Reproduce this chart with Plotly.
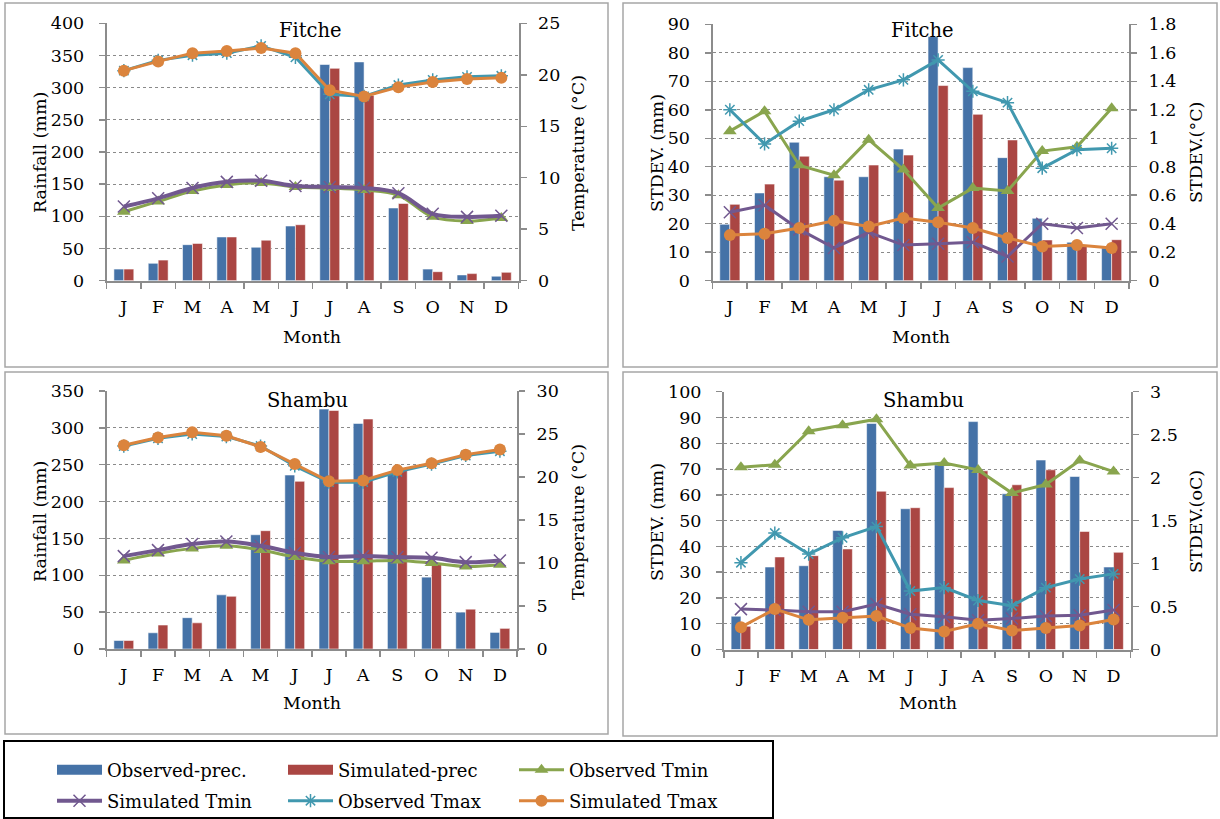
import plotly.graph_objects as go

W, H = 1220, 819
FONT = "DejaVu Serif"
TICK_SIZE = 17.5

months = ["J", "F", "M", "A", "M", "J", "J", "A", "S", "O", "N", "D"]

# ---- Fitche: monthly means ----
fit_obs_prec = [18, 27, 56, 68, 52, 85, 336, 340, 113, 18, 9, 7]
fit_sim_prec = [18, 32, 58, 68, 63, 87, 330, 288, 120, 14, 11, 13]
fit_obs_tmin = [6.7, 7.7, 8.7, 9.3, 9.5, 9.1, 9.0, 8.8, 8.3, 6.2, 5.8, 6.1]
fit_sim_tmin = [7.2, 8.0, 9.0, 9.6, 9.7, 9.2, 9.1, 9.0, 8.5, 6.5, 6.2, 6.3]
fit_obs_tmax = [20.4, 21.4, 21.9, 22.1, 22.8, 21.7, 18.1, 17.9, 19.0, 19.5, 19.8, 19.9]
fit_sim_tmax = [20.4, 21.3, 22.1, 22.3, 22.6, 22.1, 18.5, 17.9, 18.8, 19.3, 19.6, 19.7]

# ---- Fitche: standard deviations ----
fit_obs_prec_sd = [19.8, 30.8, 48.6, 36.5, 36.5, 46.2, 85.7, 74.8, 43.2, 21.9, 13.5, 11.5]
fit_sim_prec_sd = [26.8, 33.9, 43.7, 35.3, 40.6, 44.1, 68.5, 58.4, 49.4, 14.3, 12.3, 14.4]
fit_obs_tmin_sd = [1.05, 1.19, 0.81, 0.74, 0.99, 0.78, 0.51, 0.65, 0.63, 0.91, 0.94, 1.21]
fit_sim_tmin_sd = [0.48, 0.53, 0.36, 0.23, 0.34, 0.25, 0.26, 0.27, 0.17, 0.40, 0.37, 0.40]
fit_obs_tmax_sd = [1.20, 0.96, 1.12, 1.20, 1.34, 1.41, 1.55, 1.33, 1.25, 0.79, 0.92, 0.93]
fit_sim_tmax_sd = [0.32, 0.33, 0.37, 0.42, 0.38, 0.44, 0.41, 0.37, 0.30, 0.24, 0.25, 0.23]

# ---- Shambu: monthly means ----
sha_obs_prec = [11.5, 22, 42.5, 73.5, 155, 236, 325.5, 306, 238, 97.5, 50, 22.5]
sha_sim_prec = [11.5, 32.5, 35.5, 71.5, 160.5, 227.5, 323.5, 312, 243, 116, 54, 28]
sha_obs_tmin = [10.3, 11.1, 11.7, 12.0, 11.5, 10.7, 10.2, 10.2, 10.3, 10.0, 9.6, 9.8]
sha_sim_tmin = [10.8, 11.5, 12.2, 12.5, 12.0, 11.2, 10.7, 10.8, 10.7, 10.6, 10.1, 10.3]
sha_obs_tmax = [23.6, 24.5, 25.0, 24.7, 23.6, 21.3, 19.4, 19.4, 20.6, 21.5, 22.5, 23.0]
sha_sim_tmax = [23.7, 24.6, 25.2, 24.8, 23.5, 21.5, 19.5, 19.6, 20.8, 21.6, 22.6, 23.2]

# ---- Shambu: standard deviations ----
sha_obs_prec_sd = [12.9, 32, 32.5, 46.2, 87.7, 54.6, 71.6, 88.4, 60.4, 73.5, 67.1, 32]
sha_sim_prec_sd = [9, 35.9, 36.4, 39, 61.4, 55, 62.8, 69.3, 63.9, 69.7, 45.8, 37.7]
sha_obs_tmin_sd = [2.12, 2.15, 2.54, 2.61, 2.68, 2.14, 2.17, 2.09, 1.82, 1.92, 2.20, 2.07]
sha_sim_tmin_sd = [0.47, 0.46, 0.44, 0.44, 0.53, 0.41, 0.38, 0.34, 0.36, 0.39, 0.40, 0.46]
sha_obs_tmax_sd = [1.01, 1.355, 1.11, 1.30, 1.43, 0.68, 0.72, 0.57, 0.51, 0.72, 0.82, 0.88]
sha_sim_tmax_sd = [0.26, 0.47, 0.345, 0.37, 0.39, 0.25, 0.21, 0.30, 0.22, 0.25, 0.28, 0.35]

BLUE, RED, GREEN = "#4572A7", "#AA4643", "#89A54E"
PURPLE, TEAL, ORANGE = "#71588F", "#4198AF", "#DB843D"
AXIS_GREY = "#8C8C8C"


def px(x):
    return x / W


def py(y):
    return 1 - y / H


# panel definitions: plot-area pixel boxes, axis ranges, texts and text anchors
panels = [
    dict(title="Fitche", title_xy=(310, 31), box=(106.7, 518.5, 23.3, 280.7), frame=(5, 608, 3, 367),
         lrange=400, ldtick=50, rrange=25, rdtick=5,
         ltitle="Rainfall (mm)", ltitle_x=40, rtitle="Temperature (\u00b0C)", rtitle_x=578, ytitle_y=153,
         month_xy=(312, 337), smooth=True,
         series=(fit_obs_prec, fit_sim_prec, fit_obs_tmin, fit_sim_tmin, fit_obs_tmax, fit_sim_tmax)),
    dict(title="Fitche", title_xy=(922, 31), box=(712.5, 1129, 24.3, 280.7), frame=(623, 1217, 3, 367),
         lrange=90, ldtick=10, rrange=1.8, rdtick=0.2,
         ltitle="STDEV. (mm)", ltitle_x=657, rtitle="STDEV.(\u00b0C)", rtitle_x=1196, ytitle_y=153,
         month_xy=(921, 337), smooth=False,
         series=(fit_obs_prec_sd, fit_sim_prec_sd, fit_obs_tmin_sd, fit_sim_tmin_sd, fit_obs_tmax_sd, fit_sim_tmax_sd)),
    dict(title="Shambu", title_xy=(307, 400), box=(106.7, 517, 391, 649), frame=(5, 608, 372, 734),
         lrange=350, ldtick=50, rrange=30, rdtick=5,
         ltitle="Rainfall (mm)", ltitle_x=40, rtitle="Temperature (\u00b0C)", rtitle_x=578, ytitle_y=522,
         month_xy=(312, 703), smooth=True,
         series=(sha_obs_prec, sha_sim_prec, sha_obs_tmin, sha_sim_tmin, sha_obs_tmax, sha_sim_tmax)),
    dict(title="Shambu", title_xy=(923, 400), box=(724, 1130.5, 391.7, 649.5), frame=(623, 1217, 372, 736),
         lrange=100, ldtick=10, rrange=3, rdtick=0.5,
         ltitle="STDEV. (mm)", ltitle_x=657, rtitle="STDEV.(oC)", rtitle_x=1196, ytitle_y=522,
         month_xy=(928, 703), smooth=False,
         series=(sha_obs_prec_sd, sha_sim_prec_sd, sha_obs_tmin_sd, sha_sim_tmin_sd, sha_obs_tmax_sd, sha_sim_tmax_sd)),
]

names = ["Observed-prec.", "Simulated-prec", "Observed Tmin",
         "Simulated Tmin", "Observed Tmax", "Simulated Tmax"]

fig = go.Figure()
layout = dict(
    width=W, height=H, margin=dict(l=0, r=0, t=0, b=0, autoexpand=False),
    paper_bgcolor="white", plot_bgcolor="white",
    font=dict(family=FONT, size=TICK_SIZE, color="black"),
    barmode="group", bargap=0.42, bargroupgap=0.0,
    showlegend=True,
)
shapes, annotations = [], []
x_idx = list(range(12))
bar_edge = dict(color="rgba(255,255,255,0.55)", width=1)

for k, p in enumerate(panels, start=1):
    x0, x1, y0, y1 = p["box"]
    xa = "x" if k == 1 else f"x{k}"
    yl_n, yr_n = 2 * k - 1, 2 * k
    yl = "y" if yl_n == 1 else f"y{yl_n}"
    yr = f"y{yr_n}"
    obs_p, sim_p, obs_n, sim_n, obs_x, sim_x = p["series"]

    fig.add_trace(go.Bar(x=x_idx, y=obs_p, name=names[0], marker=dict(color=BLUE, line=bar_edge),
                         xaxis=xa, yaxis=yl, showlegend=False, offsetgroup="obs"))
    fig.add_trace(go.Bar(x=x_idx, y=sim_p, name=names[1], marker=dict(color=RED, line=bar_edge),
                         xaxis=xa, yaxis=yl, showlegend=False, offsetgroup="sim"))

    shape = "spline" if p["smooth"] else "linear"
    tmin_w = 4 if p["smooth"] else 3
    fig.add_trace(go.Scatter(x=x_idx, y=obs_n, name=names[2], mode="lines+markers",
                             line=dict(color=GREEN, width=3, shape=shape),
                             marker=dict(symbol="triangle-up", size=12, color=GREEN),
                             xaxis=xa, yaxis=yr, showlegend=(k == 1), legend="legend", legendrank=3))
    fig.add_trace(go.Scatter(x=x_idx, y=sim_n, name=names[3], mode="lines+markers",
                             line=dict(color=PURPLE, width=tmin_w, shape=shape),
                             marker=dict(symbol="x-thin", size=12, color=PURPLE, line=dict(color=PURPLE, width=1.5)),
                             xaxis=xa, yaxis=yr, showlegend=(k == 1), legend="legend2", legendrank=1))
    fig.add_trace(go.Scatter(x=x_idx, y=obs_x, name=names[4], mode="lines+markers",
                             line=dict(color=TEAL, width=3),
                             marker=dict(symbol="asterisk", size=11, color=TEAL, line=dict(color=TEAL, width=1.5)),
                             xaxis=xa, yaxis=yr, showlegend=(k == 1), legend="legend2", legendrank=2))
    fig.add_trace(go.Scatter(x=x_idx, y=sim_x, name=names[5], mode="lines+markers",
                             line=dict(color=ORANGE, width=3),
                             marker=dict(symbol="circle", size=12, color=ORANGE),
                             xaxis=xa, yaxis=yr, showlegend=(k == 1), legend="legend2", legendrank=3))

    xkey = "xaxis" if k == 1 else f"xaxis{k}"
    ylkey = "yaxis" if yl_n == 1 else f"yaxis{yl_n}"
    yrkey = f"yaxis{yr_n}"
    layout[xkey] = dict(
        domain=[px(x0), px(x1)], anchor=yl, range=[-0.5, 11.5], automargin=False,
        tickmode="array", tickvals=x_idx, ticktext=months, ticks="",
        ticklabelstandoff=9,
        showline=True, linecolor=AXIS_GREY, linewidth=2, showgrid=False, zeroline=False,
        minor=dict(tickmode="array", tickvals=[i - 0.5 for i in range(13)], ticks="outside",
                   ticklen=6, tickcolor=AXIS_GREY, tickwidth=1.5, showgrid=False),
        tickfont=dict(family=FONT, size=TICK_SIZE), fixedrange=True,
    )
    layout[ylkey] = dict(
        domain=[py(y1), py(y0)], anchor=xa, range=[0, p["lrange"]], dtick=p["ldtick"], tick0=0,
        automargin=False,
        showline=True, linecolor=AXIS_GREY, linewidth=2, ticks="outside", ticklen=6,
        tickcolor=AXIS_GREY, tickwidth=1.5, ticklabelstandoff=11,
        showgrid=True, gridcolor="#8A8A8A", griddash="dot", gridwidth=1, zeroline=False,
        tickfont=dict(family=FONT, size=TICK_SIZE), fixedrange=True,
    )
    layout[yrkey] = dict(
        overlaying=yl, side="right", anchor=xa, range=[0, p["rrange"]], dtick=p["rdtick"], tick0=0,
        automargin=False,
        showline=True, linecolor=AXIS_GREY, linewidth=2, ticks="outside", ticklen=6,
        tickcolor=AXIS_GREY, tickwidth=1.5, ticklabelstandoff=8,
        showgrid=False, zeroline=False,
        tickfont=dict(family=FONT, size=TICK_SIZE), fixedrange=True,
    )

    fx0, fx1, fy0, fy1 = p["frame"]
    shapes.append(dict(type="rect", xref="paper", yref="paper", x0=px(fx0), x1=px(fx1),
                       y0=py(fy1), y1=py(fy0), line=dict(color="#A6A6A6", width=1.5), layer="below"))

    tx, ty = p["title_xy"]
    annotations.append(dict(text=p["title"], x=px(tx), y=py(ty), xref="paper", yref="paper",
                            showarrow=False, font=dict(family=FONT, size=19.5), xanchor="center", yanchor="middle"))
    mx, my = p["month_xy"]
    annotations.append(dict(text="Month", x=px(mx), y=py(my), xref="paper", yref="paper",
                            showarrow=False, font=dict(family=FONT, size=TICK_SIZE), xanchor="center", yanchor="middle"))
    annotations.append(dict(text=p["ltitle"], x=px(p["ltitle_x"]), y=py(p["ytitle_y"]), xref="paper", yref="paper",
                            textangle=-90, showarrow=False, font=dict(family=FONT, size=TICK_SIZE),
                            xanchor="center", yanchor="middle"))
    annotations.append(dict(text=p["rtitle"], x=px(p["rtitle_x"]), y=py(p["ytitle_y"]), xref="paper", yref="paper",
                            textangle=-90, showarrow=False, font=dict(family=FONT, size=TICK_SIZE),
                            xanchor="center", yanchor="middle"))

# legend-only swatches for the two precipitation series
fig.add_trace(go.Scatter(x=[None], y=[None], name=names[0], mode="lines",
                         line=dict(color=BLUE, width=13), legend="legend", legendrank=1, showlegend=True))
fig.add_trace(go.Scatter(x=[None], y=[None], name=names[1], mode="lines",
                         line=dict(color=RED, width=13), legend="legend", legendrank=2, showlegend=True))

leg_common = dict(orientation="h", xanchor="left", x=px(52), yanchor="middle",
                  entrywidth=171, entrywidthmode="pixels", itemwidth=45,
                  font=dict(family=FONT, size=18, color="black"),
                  bgcolor="rgba(0,0,0,0)", borderwidth=0, traceorder="normal",
                  itemclick=False, itemdoubleclick=False)
layout["legend"] = dict(leg_common, y=py(770))
layout["legend2"] = dict(leg_common, y=py(801))

# legend frame
shapes.append(dict(type="rect", xref="paper", yref="paper", x0=px(4), x1=px(773),
                   y0=py(818), y1=py(741), line=dict(color="black", width=2)))

layout["shapes"] = shapes
layout["annotations"] = annotations
fig.update_layout(**layout)

fig.write_html("out.html", config=dict(displayModeBar=False, staticPlot=True))
